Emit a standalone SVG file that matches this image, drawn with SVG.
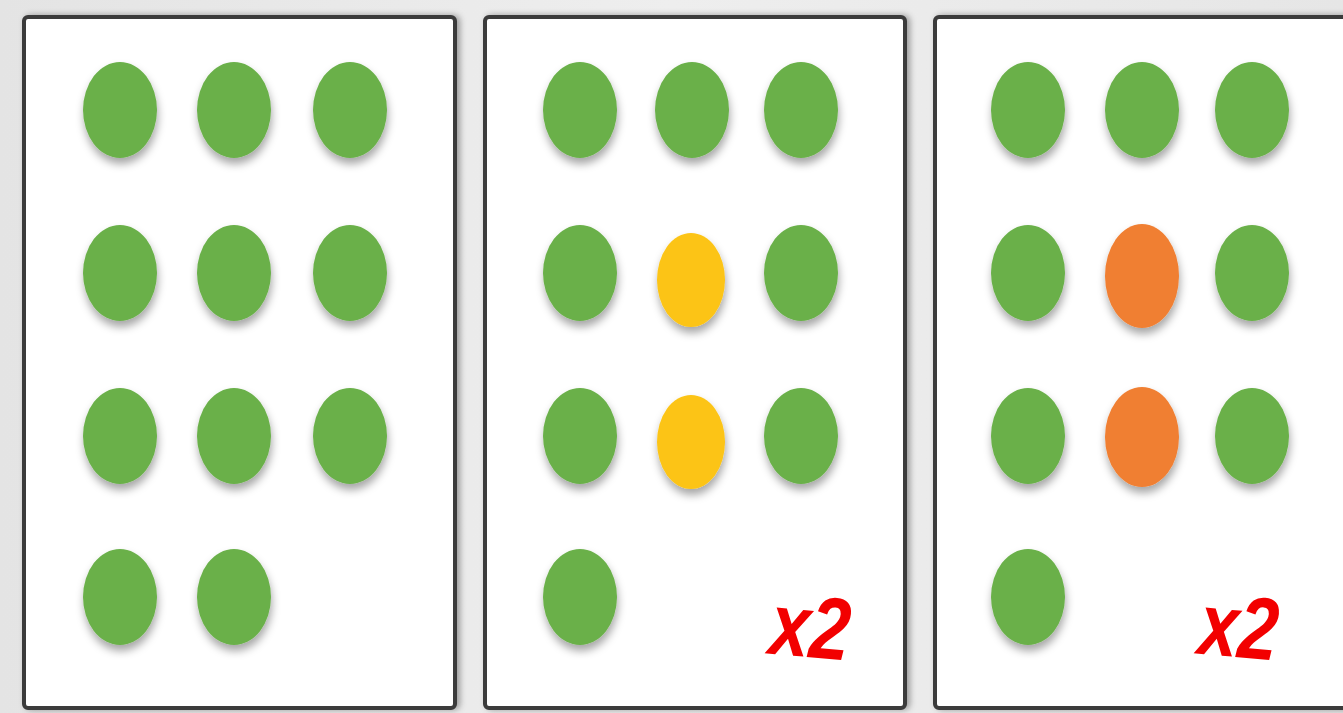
<svg xmlns="http://www.w3.org/2000/svg" width="1343" height="713" viewBox="0 0 1343 713">
<defs>
<filter id="sh" x="-30%" y="-30%" width="160%" height="170%">
<feDropShadow dx="1" dy="6" stdDeviation="4" flood-color="#000" flood-opacity="0.35"/>
</filter>
<filter id="psh" x="-5%" y="-5%" width="110%" height="110%">
<feDropShadow dx="3" dy="0" stdDeviation="3" flood-color="#000" flood-opacity="0.35"/>
</filter>
<linearGradient id="bg" x1="0" y1="0" x2="1" y2="0">
<stop offset="0" stop-color="#e4e4e4"/>
<stop offset="0.5" stop-color="#eeeeee"/>
<stop offset="1" stop-color="#e6e6e6"/>
</linearGradient>
</defs>
<style>
.panel{fill:#fff;stroke:#3a3a3a;stroke-width:4}
.g{fill:#6ab04a;filter:url(#sh)}
.y{fill:#fcc419;filter:url(#sh)}
.o{fill:#f07f32;filter:url(#sh)}
.t{font-family:"Liberation Sans",Arial,sans-serif;font-weight:bold;font-style:italic;font-size:88px;fill:#f20000}
</style>
<rect width="1343" height="713" fill="url(#bg)"/>
<g id="panel1">
<rect class="panel" x="24" y="17" width="431" height="691" rx="4" filter="url(#psh)"/>
<ellipse class="g" cx="120" cy="110" rx="37" ry="48"/>
<ellipse class="g" cx="234" cy="110" rx="37" ry="48"/>
<ellipse class="g" cx="350" cy="110" rx="37" ry="48"/>
<ellipse class="g" cx="120" cy="273" rx="37" ry="48"/>
<ellipse class="g" cx="234" cy="273" rx="37" ry="48"/>
<ellipse class="g" cx="350" cy="273" rx="37" ry="48"/>
<ellipse class="g" cx="120" cy="436" rx="37" ry="48"/>
<ellipse class="g" cx="234" cy="436" rx="37" ry="48"/>
<ellipse class="g" cx="350" cy="436" rx="37" ry="48"/>
<ellipse class="g" cx="120" cy="597" rx="37" ry="48"/>
<ellipse class="g" cx="234" cy="597" rx="37" ry="48"/>
</g>
<g id="panel2">
<rect class="panel" x="485" y="17" width="420" height="691" rx="4" filter="url(#psh)"/>
<ellipse class="g" cx="580" cy="110" rx="37" ry="48"/>
<ellipse class="g" cx="692" cy="110" rx="37" ry="48"/>
<ellipse class="g" cx="801" cy="110" rx="37" ry="48"/>
<ellipse class="g" cx="580" cy="273" rx="37" ry="48"/>
<ellipse class="y" cx="691" cy="280" rx="34" ry="47"/>
<ellipse class="g" cx="801" cy="273" rx="37" ry="48"/>
<ellipse class="g" cx="580" cy="436" rx="37" ry="48"/>
<ellipse class="y" cx="691" cy="442" rx="34" ry="47"/>
<ellipse class="g" cx="801" cy="436" rx="37" ry="48"/>
<ellipse class="g" cx="580" cy="597" rx="37" ry="48"/>
<text class="t" x="770" y="657" textLength="80" lengthAdjust="spacingAndGlyphs" transform="rotate(5 810 630)">x2</text>
</g>
<g id="panel3">
<rect class="panel" x="935" y="17" width="440" height="691" rx="4" filter="url(#psh)"/>
<ellipse class="g" cx="1028" cy="110" rx="37" ry="48"/>
<ellipse class="g" cx="1142" cy="110" rx="37" ry="48"/>
<ellipse class="g" cx="1252" cy="110" rx="37" ry="48"/>
<ellipse class="g" cx="1028" cy="273" rx="37" ry="48"/>
<ellipse class="o" cx="1142" cy="276" rx="37" ry="52"/>
<ellipse class="g" cx="1252" cy="273" rx="37" ry="48"/>
<ellipse class="g" cx="1028" cy="436" rx="37" ry="48"/>
<ellipse class="o" cx="1142" cy="437" rx="37" ry="50"/>
<ellipse class="g" cx="1252" cy="436" rx="37" ry="48"/>
<ellipse class="g" cx="1028" cy="597" rx="37" ry="48"/>
<text class="t" x="1199" y="657" textLength="79" lengthAdjust="spacingAndGlyphs" transform="rotate(5 1238 630)">x2</text>
</g>
<g id="connectors"/>
</svg>
